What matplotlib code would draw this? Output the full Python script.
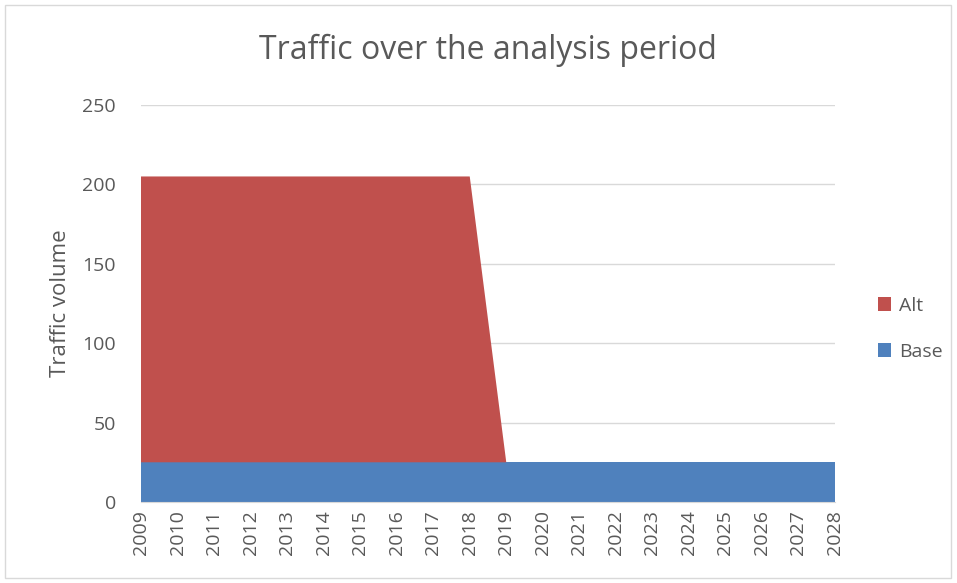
import matplotlib.pyplot as plt
from matplotlib.patches import Rectangle

years = list(range(2009, 2029))
base = [25] * 20
alt = [180] * 10 + [0] * 10

plt.rcParams['font.family'] = ['Open Sans', 'DejaVu Sans']
txt = '#595959'

fig = plt.figure(figsize=(9.57, 5.83), dpi=100)
ax = fig.add_axes([141 / 957, 1 - 502 / 583, 694 / 957, 397 / 583])

ax.stackplot(years, base, alt, colors=['#4f81bd', '#c0504d'], labels=['Base', 'Alt'])
ax.set_xlim(2009, 2028)
ax.set_ylim(0, 250)
ax.set_yticks(range(0, 251, 50))
ax.set_xticks(years)
ax.set_xticklabels([str(y) for y in years], rotation=90)
ax.tick_params(axis='both', length=0, labelsize=14, colors=txt)
ax.tick_params(axis='y', pad=18)
ax.tick_params(axis='x', pad=6)
ax.grid(axis='y', color='#d9d9d9', linewidth=1)
ax.set_axisbelow(True)
for s in ['top', 'right', 'left']:
    ax.spines[s].set_visible(False)
ax.spines['bottom'].set_color('#d9d9d9')

ax.set_ylabel('Traffic volume', fontsize=16, color=txt, labelpad=8)
fig.text(488 / 957, 1 - 50 / 583, 'Traffic over the analysis period', fontsize=23,
         color=txt, ha='center', va='center')

handles, labels = ax.get_legend_handles_labels()
leg = fig.legend(handles[::-1], labels[::-1], loc='center left',
                 bbox_to_anchor=(860 / 957, 1 - 329 / 583), frameon=False,
                 fontsize=14, labelcolor=txt, handlelength=0.7, handleheight=0.7,
                 handletextpad=0.4, labelspacing=1.45)

fig.patches.append(Rectangle((5 / 957, 5 / 583), 946 / 957, 573 / 583,
                             transform=fig.transFigure, fill=False,
                             edgecolor='#d9d9d9', linewidth=1))

fig.savefig('out.png', dpi=100)
